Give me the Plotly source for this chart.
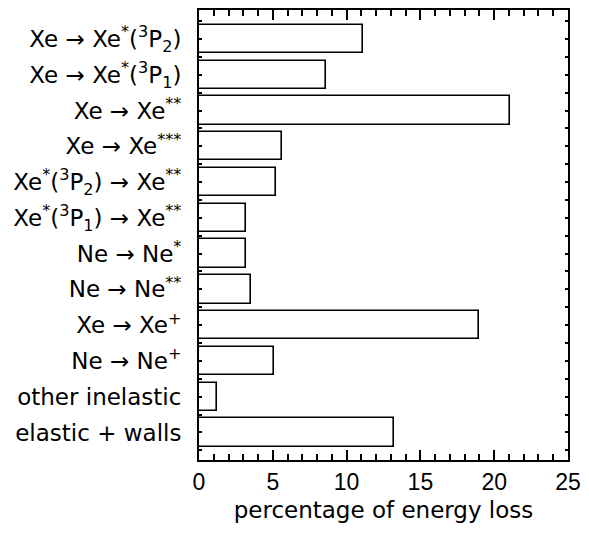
import plotly.graph_objects as go

labels = [
    "Xe → Xe<sup>*</sup>(<sup>3</sup>P<sub>2</sub>)",
    "Xe → Xe<sup>*</sup>(<sup>3</sup>P<sub>1</sub>)",
    "Xe → Xe<sup>**</sup>",
    "Xe → Xe<sup>***</sup>",
    "Xe<sup>*</sup>(<sup>3</sup>P<sub>2</sub>) → Xe<sup>**</sup>",
    "Xe<sup>*</sup>(<sup>3</sup>P<sub>1</sub>) → Xe<sup>**</sup>",
    "Ne → Ne<sup>*</sup>",
    "Ne → Ne<sup>**</sup>",
    "Xe → Xe<sup>+</sup>",
    "Ne → Ne<sup>+</sup>",
    "other inelastic",
    "elastic + walls",
]
values = [11.1, 8.6, 21.1, 5.64, 5.22, 3.2, 3.2, 3.54, 18.97, 5.06, 1.24, 13.22]
positions = list(range(len(labels)))
x_ticks = [0, 5, 10, 15, 20, 25]

FONT = "DejaVu Sans"

fig = go.Figure()
fig.add_trace(go.Bar(
    x=values, y=positions, orientation="h", width=0.79,
    marker=dict(color="white", line=dict(color="black", width=1.6)),
    showlegend=False,
))

fig.update_layout(
    width=589, height=536,
    margin=dict(l=199, r=13, t=8, b=76),
    paper_bgcolor="white", plot_bgcolor="white",
    font=dict(family=FONT, size=23, color="black"),
    bargap=0,
)
fig.update_xaxes(
    range=[0, 25], tickvals=x_ticks, ticktext=[str(v) for v in x_ticks],
    ticks="inside", ticklen=10, tickwidth=2, tickcolor="black",
    minor=dict(dtick=1, tick0=0, ticks="inside", ticklen=6, tickwidth=2, tickcolor="black"),
    showline=True, linewidth=2, linecolor="black", mirror="ticks",
    showgrid=False, zeroline=False,
    title=dict(text="percentage of energy loss", font=dict(size=23), standoff=8),
    tickfont=dict(family="Liberation Sans", size=23), ticklabeloverflow="allow",
)
fig.update_yaxes(
    range=[11.77, -0.81], tickvals=positions, ticktext=labels,
    ticks="inside", ticklen=3, tickwidth=2, tickcolor="black",
    minor=dict(dtick=0.5, tick0=0, ticks="inside", ticklen=3, tickwidth=2, tickcolor="black"),
    showline=True, linewidth=2, linecolor="black", mirror="ticks",
    showgrid=False, zeroline=False,
    tickfont=dict(size=23), ticklabelstandoff=11, ticklabeloverflow="allow",
)

fig.write_html(
    "out.html",
    config={"displayModeBar": False},
    post_script="document.body.style.margin='0';document.body.style.overflow='hidden';",
)
